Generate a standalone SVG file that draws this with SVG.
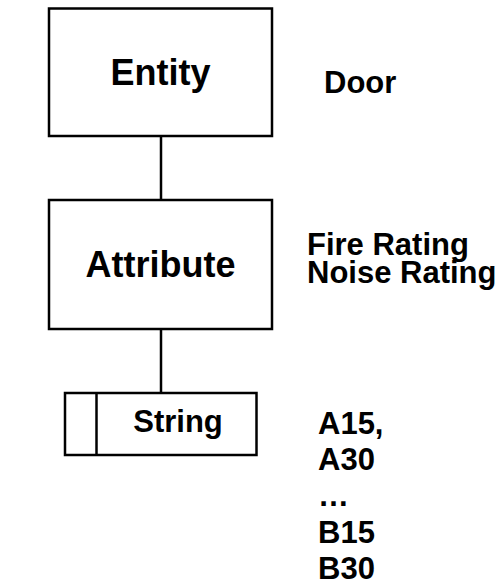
<svg xmlns="http://www.w3.org/2000/svg" width="504" height="587" viewBox="0 0 504 587">
<style>
.box{fill:#fff;stroke:#000;stroke-width:2.5}
.ln{stroke:#000;stroke-width:2.5;fill:none}
text{font-family:"Liberation Sans",Arial,sans-serif;font-weight:bold;fill:#000}
.big{font-size:36px}
.mid{font-size:31px}
</style>
<rect width="504" height="587" fill="#fff"/>
<g id="connectors">
<line class="ln" x1="161" y1="136" x2="161" y2="200"/>
<line class="ln" x1="161" y1="329" x2="161" y2="393"/>
</g>
<g id="entity">
<rect class="box" x="49" y="8.5" width="223" height="127.5"/>
<text class="big" x="160.5" y="85" text-anchor="middle">Entity</text>
</g>
<g id="attribute">
<rect class="box" x="49" y="200" width="223" height="129"/>
<text class="big" x="160.5" y="277" text-anchor="middle">Attribute</text>
</g>
<g id="string">
<rect class="box" x="65" y="393" width="191.5" height="62"/>
<line class="ln" x1="96.5" y1="393" x2="96.5" y2="455"/>
<text class="mid" x="178" y="432" text-anchor="middle">String</text>
</g>
<g id="labels">
<text class="mid" x="324" y="93">Door</text>
<text class="mid" x="307" y="255">Fire Rating</text>
<text class="mid" x="307" y="283">Noise Rating</text>
<text class="mid" x="318" y="434">A15,</text>
<text class="mid" x="318" y="470">A30</text>
<text class="mid" x="318" y="506">…</text>
<text class="mid" x="318" y="543">B15</text>
<text class="mid" x="318" y="579">B30</text>
</g>
</svg>
